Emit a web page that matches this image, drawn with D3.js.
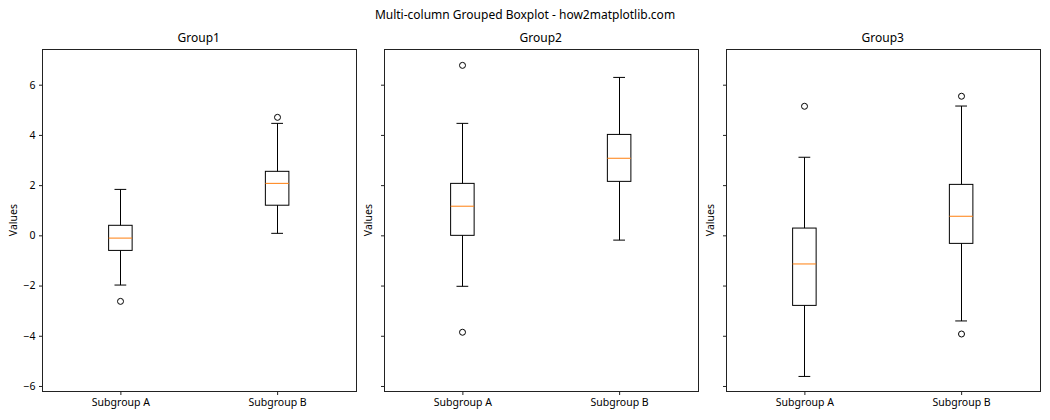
<!DOCTYPE html>
<html>
<head>
<meta charset="utf-8">
<script src="https://cdn.jsdelivr.net/npm/d3@7"></script>
<style>
  body { margin: 0; background: #fff; }
  svg text { font-family: "Noto Sans", "Lato", sans-serif; fill: #000; }
</style>
</head>
<body>
<svg id="chart" width="1050" height="420"></svg>
<script>
// Grouped boxplot, one panel per group
/////////////////////////////////

var groups = ['Group1', 'Group2', 'Group3'];
var subgroups = ['Subgroup A', 'Subgroup B'];

// box stats, per group -> [A, B]
var whiskerLow  = [[-1.98, 0.08], [-2.03, -0.19], [-5.62, -3.41]];
var q1          = [[-0.60, 1.20], [0.00, 2.15], [-2.79, -0.32]];
var medians     = [[-0.11, 2.07], [1.16, 3.07], [-1.14, 0.76]];
var q3          = [[0.40, 2.55], [2.07, 4.02], [0.29, 2.03]];
var whiskerHigh = [[1.83, 4.46], [4.46, 6.29], [3.11, 5.15]];
var fliers      = [[[-2.63], [4.70]], [[6.77, -3.86], []], [[5.14], [5.54, -3.93]]];

var yTicks = [-6, -4, -2, 0, 2, 4, 6];
var yDomain = [-6.20, 7.41];

var svg = d3.select('#chart');

var panelLeft = [42, 384, 726],
    panelWidth = 313.5,
    axTop = 49.3,
    axBottom = 391,
    boxWidth = 0.15,
    capWidth = 0.075;

var y = d3.scaleLinear().domain(yDomain).range([axBottom, axTop]);

// figure title
svg.append('text')
    .attr('x', 525).attr('y', 19)
    .attr('text-anchor', 'middle')
    .style('font-size', '12px')
    .text('Multi-column Grouped Boxplot - how2matplotlib.com');

groups.forEach(function (g, gi) {
    var left = panelLeft[gi],
        right = left + panelWidth;

    var x = d3.scaleLinear().domain([0.5, 2.5]).range([left, right]);

    var panel = svg.append('g').attr('class', 'panel');

    // y axis (labels only on the first panel, shared y)
    var yAxis = d3.axisLeft(y).tickValues(yTicks).tickSize(3.5).tickPadding(3.5)
        .tickFormat(gi === 0 ? function (d) { return d < 0 ? '\u2212' + Math.abs(d) : d; } : function () { return ''; });
    var ya = panel.append('g')
        .attr('transform', 'translate(' + (Math.round(left) + 0.5) + ',0)')
        .call(yAxis);
    ya.select('.domain').remove();
    ya.selectAll('line').attr('stroke', '#222');
    ya.selectAll('text').style('font-size', '10.5px').attr('fill', '#000');

    // x axis
    var xAxis = d3.axisBottom(x).tickValues([1, 2]).tickSize(3.5).tickPadding(3.5)
        .tickFormat(function (d) { return subgroups[d - 1]; });
    var xa = panel.append('g')
        .attr('transform', 'translate(0,' + (Math.round(axBottom) + 0.5) + ')')
        .call(xAxis);
    xa.select('.domain').remove();
    xa.selectAll('line').attr('stroke', '#222');
    xa.selectAll('text').style('font-size', '10.5px').attr('fill', '#000');

    // spines
    panel.append('rect')
        .attr('x', Math.round(left) + 0.5)
        .attr('y', Math.round(axTop) + 0.5)
        .attr('width', Math.round(right) - Math.round(left))
        .attr('height', Math.round(axBottom) - Math.round(axTop))
        .attr('fill', 'none')
        .attr('stroke', '#222')
        .attr('stroke-width', 1);

    // panel title
    panel.append('text')
        .attr('x', (left + right) / 2).attr('y', axTop - 7)
        .attr('text-anchor', 'middle')
        .style('font-size', '12px')
        .text(g);

    // y label
    panel.append('text')
        .attr('transform', 'translate(' + (left - (gi === 0 ? 25 : 12)) + ',' + ((axTop + axBottom) / 2) + ') rotate(-90)')
        .attr('text-anchor', 'middle')
        .style('font-size', '10.5px')
        .text('Values');

    // boxes
    subgroups.forEach(function (s, si) {
        var pos = si + 1,
            cx = Math.round(x(pos)) + 0.5,
            bx0 = x(pos - boxWidth / 2),
            bx1 = x(pos + boxWidth / 2),
            cx0 = x(pos - capWidth / 2),
            cx1 = x(pos + capWidth / 2);

        var box = panel.append('g').attr('class', 'box');

        // whiskers
        box.append('line')
            .attr('x1', cx).attr('x2', cx)
            .attr('y1', y(whiskerLow[gi][si])).attr('y2', y(q1[gi][si]))
            .attr('stroke', '#000');
        box.append('line')
            .attr('x1', cx).attr('x2', cx)
            .attr('y1', y(q3[gi][si])).attr('y2', y(whiskerHigh[gi][si]))
            .attr('stroke', '#000');

        // caps
        [whiskerLow[gi][si], whiskerHigh[gi][si]].forEach(function (v) {
            box.append('line')
                .attr('x1', cx0).attr('x2', cx1)
                .attr('y1', y(v)).attr('y2', y(v))
                .attr('stroke', '#000');
        });

        // box body
        box.append('rect')
            .attr('x', bx0)
            .attr('y', y(q3[gi][si]))
            .attr('width', bx1 - bx0)
            .attr('height', y(q1[gi][si]) - y(q3[gi][si]))
            .attr('fill', 'none')
            .attr('stroke', '#000');

        // median
        box.append('line')
            .attr('x1', bx0).attr('x2', bx1)
            .attr('y1', y(medians[gi][si])).attr('y2', y(medians[gi][si]))
            .attr('stroke', '#ff7f0e');

        // fliers
        box.selectAll('circle.flier')
            .data(fliers[gi][si])
            .enter().append('circle')
            .attr('class', 'flier')
            .attr('cx', cx)
            .attr('cy', function (d) { return y(d); })
            .attr('r', 3)
            .attr('fill', 'none')
            .attr('stroke', '#000');
    });
});
</script>
</body>
</html>
